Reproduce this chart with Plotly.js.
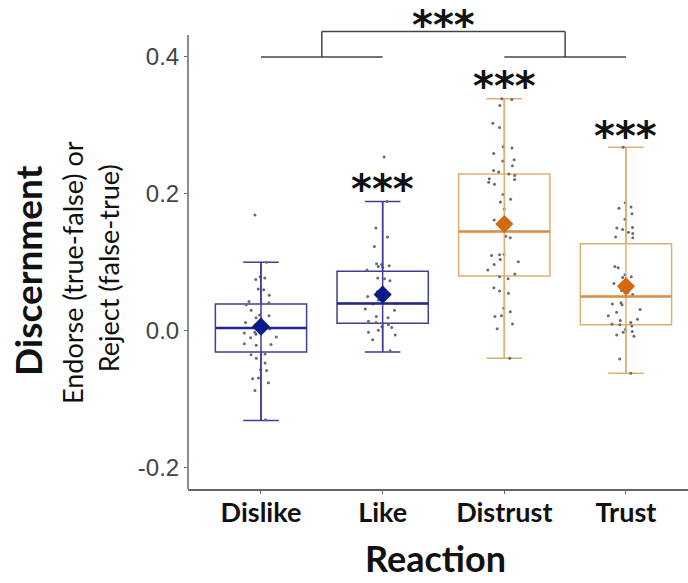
<!DOCTYPE html>
<html>
<head>
<meta charset="utf-8">
<script src="https://cdn.plot.ly/plotly-3.0.1.min.js"></script>
<style>html,body{margin:0;padding:0;background:#fff;}#chart{width:688px;height:583px;}</style>
</head>
<body>
<div id="chart"></div>
<script>
// ---- data ----
var categories = ["Dislike", "Like", "Distrust", "Trust"];
var q1Vals      = [-0.031, 0.011, 0.080, 0.009];
var medianVals  = [0.004, 0.040, 0.145, 0.050];
var q3Vals      = [0.039, 0.087, 0.229, 0.127];
var lowerVals   = [-0.131, -0.031, -0.040, -0.062];
var upperVals   = [0.100, 0.189, 0.339, 0.268];
var meanVals    = [0.006, 0.053, 0.156, 0.065];

var dislikePts = [0.169, 0.100, 0.079, 0.077, 0.075, 0.061, 0.060, 0.052, 0.043, 0.041, 0.038, 0.030, 0.023, 0.022, 0.019, 0.017, 0.012, 0.009, 0.006, 0.003, -0.001, -0.002, -0.003, -0.005, -0.009, -0.010, -0.019, -0.020, -0.021, -0.034, -0.035, -0.040, -0.047, -0.057, -0.058, -0.069, -0.070, -0.076, -0.087, -0.130];
var likePts = [0.254, 0.189, 0.150, 0.137, 0.123, 0.098, 0.097, 0.095, 0.094, 0.093, 0.089, 0.077, 0.076, 0.073, 0.063, 0.057, 0.050, 0.045, 0.040, 0.039, 0.032, 0.030, 0.021, 0.019, 0.014, 0.012, 0.009, 0.006, 0.005, 0.001, -0.002, -0.006, -0.013, -0.029];
var distrustPts = [0.339, 0.338, 0.329, 0.303, 0.297, 0.269, 0.267, 0.259, 0.250, 0.248, 0.241, 0.234, 0.232, 0.229, 0.227, 0.222, 0.221, 0.217, 0.214, 0.199, 0.192, 0.188, 0.178, 0.162, 0.152, 0.138, 0.136, 0.112, 0.111, 0.110, 0.104, 0.101, 0.097, 0.089, 0.083, 0.079, 0.076, 0.063, 0.058, 0.055, 0.033, 0.028, 0.022, 0.021, 0.010, 0.003, -0.040];
var trustPts = [0.268, 0.187, 0.181, 0.179, 0.171, 0.163, 0.151, 0.150, 0.148, 0.144, 0.142, 0.137, 0.136, 0.094, 0.092, 0.082, 0.079, 0.078, 0.073, 0.069, 0.059, 0.056, 0.053, 0.050, 0.041, 0.039, 0.038, 0.031, 0.027, 0.022, 0.017, 0.015, 0.012, 0.010, 0.009, 0.007, 0.002, -0.001, -0.002, -0.006, -0.008, -0.041, -0.062];
var pointSets = [dislikePts, likePts, distrustPts, trustPts];

var sigLabels = ["", "***", "***", "***"];
var sigY      = [null, 0.207, 0.357, 0.285];
var topSigLabel = "***";
var bracketY = 0.400;
var bracketTopY = 0.437;
var topSigY = 0.446;

// ---- styles ----
var boxColors    = ["#3f3f93", "#3f3f93", "#deae72", "#deae72"];
var medianColors = ["#26268a", "#26268a", "#d78f45", "#d78f45"];
var meanColors   = ["#0b1a8a", "#0b1a8a", "#d2690f", "#d2690f"];
var BOXW = 0.75;

var traces = [];
categories.forEach(function (c, i) {
  traces.push({
    type: "scatter", mode: "lines", x: [i, i], y: [lowerVals[i], upperVals[i]],
    line: {color: boxColors[i], width: 1.5}, hoverinfo: "skip", showlegend: false
  });
  traces.push({
    type: "box", x: [i], q1: [q1Vals[i]], median: [medianVals[i]], q3: [q3Vals[i]],
    lowerfence: [lowerVals[i]], upperfence: [upperVals[i]],
    width: BOXW, whiskerwidth: 0.39, boxpoints: false,
    line: {color: boxColors[i], width: 1.5}, fillcolor: "rgba(0,0,0,0)",
    hoverinfo: "skip", showlegend: false
  });
  traces.push({
    type: "box", y: pointSets[i], x0: i, width: BOXW, boxpoints: "all", jitter: 0.45, pointpos: 0,
    line: {color: "rgba(0,0,0,0)", width: 0}, fillcolor: "rgba(0,0,0,0)",
    marker: {color: "#6a6a6a", size: 3}, hoverinfo: "skip", showlegend: false
  });
  traces.push({
    type: "scatter", mode: "lines", x: [i - BOXW / 2, i + BOXW / 2], y: [medianVals[i], medianVals[i]],
    line: {color: medianColors[i], width: 2.5}, hoverinfo: "skip", showlegend: false
  });
  traces.push({
    type: "scatter", mode: "markers", x: [i], y: [meanVals[i]],
    marker: {symbol: "diamond", size: 14, color: meanColors[i]}, hoverinfo: "skip", showlegend: false
  });
});

var starFont = {family: "DejaVu Sans", size: 40, color: "#111", weight: "bold"};
var annotations = [];
categories.forEach(function (c, i) {
  if (sigLabels[i]) {
    annotations.push({x: i, y: sigY[i], xref: "x", yref: "y", text: sigLabels[i], showarrow: false,
      font: starFont, xanchor: "center", yanchor: "middle"});
  }
});
annotations.push({x: 1.5, y: topSigY, xref: "x", yref: "y", text: topSigLabel, showarrow: false,
  font: starFont, xanchor: "center", yanchor: "middle"});
annotations.push({x: 0.494, y: -0.143, xref: "paper", yref: "paper", text: "<b>Reaction</b>", showarrow: false,
  font: {family: "Lato", size: 36, color: "#111"}, xanchor: "center", yanchor: "middle"});
annotations.push({x: -0.322, y: 0.454, xref: "paper", yref: "paper", text: "<b>Discernment</b>", showarrow: false,
  textangle: -90, font: {family: "Lato", size: 37, color: "#111"}, xanchor: "center", yanchor: "middle"});
annotations.push({x: -0.232, y: 0.45, xref: "paper", yref: "paper", text: "Endorse (true-false) or", showarrow: false,
  textangle: -90, font: {family: "Lato", size: 27, color: "#111"}, xanchor: "center", yanchor: "middle"});
annotations.push({x: -0.16, y: 0.46, xref: "paper", yref: "paper", text: "Reject (false-true)", showarrow: false,
  textangle: -90, font: {family: "Lato", size: 27, color: "#111"}, xanchor: "center", yanchor: "middle"});

var lineC = "#444";
var shapes = [
  {type: "line", xref: "paper", yref: "y", x0: 0, x1: 0, y0: -0.231, y1: 0.432, line: {color: "#666", width: 1.5}},
  {type: "line", xref: "x", yref: "y", x0: 0, x1: 1, y0: bracketY, y1: bracketY, line: {color: lineC, width: 1.5}},
  {type: "line", xref: "x", yref: "y", x0: 2, x1: 3, y0: bracketY, y1: bracketY, line: {color: lineC, width: 1.5}},
  {type: "line", xref: "x", yref: "y", x0: 0.5, x1: 0.5, y0: bracketY, y1: bracketTopY, line: {color: lineC, width: 1.5}},
  {type: "line", xref: "x", yref: "y", x0: 2.5, x1: 2.5, y0: bracketY, y1: bracketTopY, line: {color: lineC, width: 1.5}},
  {type: "line", xref: "x", yref: "y", x0: 0.5, x1: 2.5, y0: bracketTopY, y1: bracketTopY, line: {color: lineC, width: 1.5}}
];

var layout = {
  width: 688, height: 583,
  margin: {l: 188, r: 0, t: 9, b: 94},
  paper_bgcolor: "#fff", plot_bgcolor: "#fff",
  showlegend: false,
  boxmode: "overlay",
  xaxis: {
    range: [-0.6, 3.51], tickvals: [0, 1, 2, 3], ticktext: categories,
    showgrid: false, zeroline: false, showline: true, linecolor: "#666", linewidth: 1.5,
    ticks: "outside", ticklen: 3, tickcolor: "#666", ticklabelstandoff: -4,
    tickfont: {family: "Lato", size: 27, color: "#111", weight: "bold"}
  },
  yaxis: {
    range: [-0.231, 0.47], tickvals: [-0.2, 0, 0.2, 0.4], ticktext: ["-0.2", "0.0", "0.2", "0.4"],
    showgrid: false, zeroline: false, showline: false,
    ticks: "outside", ticklen: 3, tickcolor: "#666",
    tickfont: {family: "Liberation Sans", size: 24, color: "#444"}
  },
  annotations: annotations,
  shapes: shapes
};

Plotly.newPlot("chart", traces, layout, {displayModeBar: false, staticPlot: true});
</script>
</body>
</html>
